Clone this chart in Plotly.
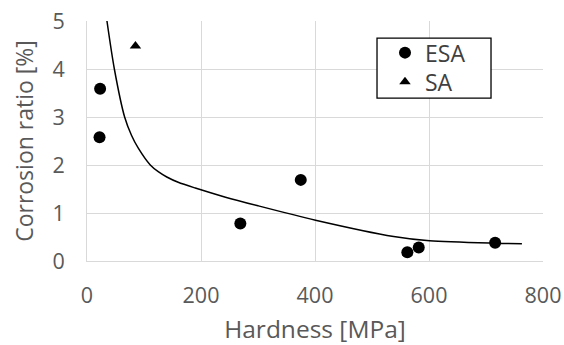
import plotly.graph_objects as go

esa_x = [23, 22, 269, 375, 562, 582, 716]
esa_y = [3.59, 2.58, 0.78, 1.69, 0.18, 0.28, 0.38]
sa_x = [85]
sa_y = [4.48]
fit_x = [35, 48, 66, 78, 90, 111, 125, 140, 160, 190, 243, 300, 401, 538, 601, 716, 763]
fit_y = [5.0, 4.0, 3.0, 2.62, 2.35, 2.0, 1.86, 1.75, 1.64, 1.52, 1.33, 1.15, 0.85, 0.51, 0.42, 0.37, 0.36]

FONT = "Open Sans"
GREY = "#595959"
LEG_FONT = dict(family=FONT, size=23, color="#404040")

fig = go.Figure()
fig.add_trace(go.Scatter(x=fit_x, y=fit_y, mode="lines",
                         line=dict(color="black", width=1.5, shape="spline", smoothing=0.8),
                         showlegend=False, hoverinfo="skip"))
fig.add_trace(go.Scatter(x=esa_x, y=esa_y, mode="markers", name="ESA", legend="legend",
                         marker=dict(symbol="circle", size=12, color="black")))
fig.add_trace(go.Scatter(x=sa_x, y=sa_y, mode="markers", name="SA", legend="legend2",
                         marker=dict(symbol="triangle-up", size=10, color="black")))

# legend frame (white box with black border) drawn as a shape under the legends
fig.add_shape(type="rect", xref="paper", yref="paper", x0=0.636, x1=0.886, y0=0.679, y1=0.929,
              line=dict(color="black", width=1.3), fillcolor="white", layer="above")

fig.update_layout(
    width=564, height=345,
    margin=dict(l=87, r=21, t=21, b=84),
    paper_bgcolor="white", plot_bgcolor="white",
    font=dict(family=FONT, color=GREY, size=20),
    showlegend=True,
    legend=dict(x=0.6535, y=0.868, xanchor="left", yanchor="middle",
                borderwidth=0, bgcolor="rgba(0,0,0,0)", font=LEG_FONT, itemwidth=30),
    legend2=dict(x=0.6535, y=0.747, xanchor="left", yanchor="middle",
                 borderwidth=0, bgcolor="rgba(0,0,0,0)", font=LEG_FONT, itemwidth=30),
)
fig.update_xaxes(range=[0, 800], dtick=200, showgrid=True, gridcolor="#d9d9d9", gridwidth=1,
                 zeroline=False, showline=True, linecolor="#d9d9d9", automargin=False,
                 ticks="", ticklabelstandoff=15, tickfont=dict(size=21.5), ticklabeloverflow="allow",
                 title=dict(text="Hardness [MPa]", font=dict(size=24.5, color=GREY), standoff=19))
fig.update_yaxes(range=[0, 5], dtick=1, showgrid=True, gridcolor="#d9d9d9", gridwidth=1,
                 zeroline=False, showline=True, linecolor="#d9d9d9", automargin=False,
                 ticks="", ticklabelstandoff=17, tickfont=dict(size=21.5), ticklabeloverflow="allow",
                 title=dict(text="Corrosion ratio [%]", font=dict(size=23, color=GREY), standoff=12))

# remove the browser's default 8px page margin so the 564x345 figure fills the window
fig.write_html("out.html", config={"displayModeBar": False},
               post_script="document.body.style.margin='0';")
